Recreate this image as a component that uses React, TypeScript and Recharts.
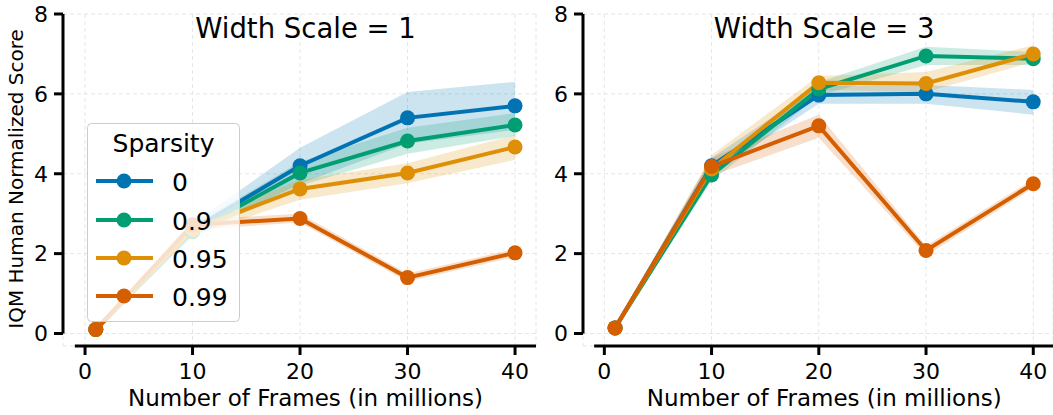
import {
  ComposedChart,
  Line,
  Area,
  XAxis,
  YAxis,
  CartesianGrid,
  ReferenceLine,
} from "recharts";

const FONT = "'DejaVu Sans', sans-serif";

const frames = [1, 10, 20, 30, 40];
const sparsityLabels = ["0", "0.9", "0.95", "0.99"];
const colors = ["#0173b2", "#029e73", "#de8f05", "#d55e00"];
const xTicks = [0, 10, 20, 30, 40];
const yTicks = [0, 2, 4, 6, 8];

// width scale = 1
const ws1Mean = [
  [0.1, 2.6, 4.2, 5.4, 5.7],
  [0.1, 2.55, 4.02, 4.82, 5.22],
  [0.1, 2.6, 3.62, 4.02, 4.67],
  [0.1, 2.72, 2.88, 1.4, 2.02],
];
const ws1Low = [
  [0.07, 2.45, 3.75, 4.75, 5.1],
  [0.07, 2.4, 3.7, 4.5, 4.95],
  [0.07, 2.45, 3.35, 3.76, 4.35],
  [0.06, 2.6, 2.78, 1.3, 1.92],
];
const ws1High = [
  [0.13, 2.75, 4.65, 6.05, 6.3],
  [0.13, 2.7, 4.3, 5.15, 5.52],
  [0.13, 2.75, 3.85, 4.26, 4.97],
  [0.14, 2.85, 3.0, 1.5, 2.12],
];

// width scale = 3
const ws3Mean = [
  [0.14, 4.2, 5.97, 6.0, 5.8],
  [0.14, 3.97, 6.12, 6.95, 6.88],
  [0.14, 4.12, 6.28, 6.26, 7.0],
  [0.14, 4.18, 5.2, 2.08, 3.75],
];
const ws3Low = [
  [0.1, 4.0, 5.75, 5.75, 5.48],
  [0.1, 3.82, 5.95, 6.72, 6.72],
  [0.1, 3.9, 6.1, 6.05, 6.8],
  [0.1, 3.95, 4.9, 1.95, 3.65],
];
const ws3High = [
  [0.18, 4.4, 6.2, 6.22, 6.1],
  [0.18, 4.15, 6.3, 7.18, 7.05],
  [0.18, 4.47, 6.45, 6.55, 7.22],
  [0.18, 4.4, 5.48, 2.2, 3.86],
];

const buildRows = (mean: number[][], low: number[][], high: number[][]) =>
  frames.map((f, i) => {
    const row: any = { frames: f };
    sparsityLabels.forEach((_, s) => {
      row["m" + s] = mean[s][i];
      row["b" + s] = [low[s][i], high[s][i]];
    });
    return row;
  });

const YMIN = -0.313;

type PanelProps = {
  data: any[];
  title: string;
  left: number;
  width: number;
  yAxisWidth: number;
  xMin: number;
  xMax: number;
  centerX: number;
  yLabel?: boolean;
};

function Panel({ data, title, left, width, yAxisWidth, xMin, xMax, centerX, yLabel }: PanelProps) {
  const tickStyle = { fill: "#000", fontSize: 22, fontFamily: FONT };
  return (
    <div style={{ position: "absolute", left, top: 0 }}>
      <ComposedChart
        width={width}
        height={415}
        data={data}
        margin={{ top: 14, right: left === 0 ? 9 : 0, bottom: 0, left: 0 }}
      >
        <CartesianGrid stroke="#e6e6e6" strokeDasharray="4 3" />
        <XAxis
          dataKey="frames"
          type="number"
          domain={[xMin, xMax]}
          ticks={xTicks}
          interval={0}
          allowDataOverflow
          axisLine={false}
          tickLine={{ stroke: "#000", strokeWidth: 3 }}
          tickSize={9}
          tickMargin={8}
          height={69}
          tick={tickStyle}
        />
        <YAxis
          type="number"
          domain={[YMIN, 8]}
          ticks={yTicks}
          interval={0}
          allowDataOverflow
          axisLine={false}
          tickLine={{ stroke: "#000", strokeWidth: 3 }}
          tickSize={9}
          tickMargin={6}
          width={yAxisWidth}
          tick={tickStyle}
        />
        {sparsityLabels.map((_, s) => [
          <Area
            key={"a" + s}
            dataKey={"b" + s}
            type="linear"
            stroke="none"
            fill={colors[s]}
            fillOpacity={0.2}
            isAnimationActive={false}
          />,
          <Line
            key={"l" + s}
            dataKey={"m" + s}
            type="linear"
            stroke={colors[s]}
            strokeWidth={4}
            dot={{ r: 7.5, fill: colors[s], stroke: colors[s], strokeWidth: 0 }}
            activeDot={false}
            isAnimationActive={false}
          />,
        ])}
        <ReferenceLine
          segment={[{ x: xMin, y: 0 }, { x: xMin, y: 8 }]}
          stroke="#000"
          strokeWidth={3}
          ifOverflow="visible"
        />
        <ReferenceLine
          segment={[{ x: -0.95, y: YMIN }, { x: xMax, y: YMIN }]}
          stroke="#000"
          strokeWidth={3}
          ifOverflow="visible"
        />
        <text x={centerX} y={38} textAnchor="middle" fontSize={27.5} fontFamily={FONT} fill="#000">
          {title}
        </text>
        <text x={centerX} y={406} textAnchor="middle" fontSize={23} fontFamily={FONT} fill="#000">
          Number of Frames (in millions)
        </text>
        {yLabel && (
          <text
            x={22.7}
            y={179}
            transform="rotate(-90, 22.7, 179)"
            textAnchor="middle"
            fontSize={20}
            fontFamily={FONT}
            fill="#000"
          >
            IQM Human Normalized Score
          </text>
        )}
      </ComposedChart>
    </div>
  );
}

function SparsityLegend() {
  const rows = [58, 97, 135, 173];
  return (
    <svg
      width={154}
      height={200}
      style={{ position: "absolute", left: 87, top: 123, fontFamily: FONT }}
    >
      <rect x={0.5} y={0.5} width={152} height={198} rx={4} fill="rgba(255,255,255,0.8)" stroke="#cccccc" />
      <text x={76.5} y={29} textAnchor="middle" fontSize={25} fill="#000">
        Sparsity
      </text>
      {sparsityLabels.map((lab, i) => (
        <g key={lab}>
          <line x1={9} x2={66} y1={rows[i]} y2={rows[i]} stroke={colors[i]} strokeWidth={4} />
          <circle cx={37} cy={rows[i]} r={7.5} fill={colors[i]} />
          <text x={85} y={rows[i] + 9.5} fontSize={25} fill="#000">
            {lab}
          </text>
        </g>
      ))}
    </svg>
  );
}

export default function App() {
  const ws1 = buildRows(ws1Mean, ws1Low, ws1High);
  const ws3 = buildRows(ws3Mean, ws3Low, ws3High);
  return (
    <div
      style={{
        position: "absolute",
        left: 0,
        top: 0,
        width: 1053,
        height: 415,
        overflow: "hidden",
        background: "#fff",
        fontFamily: FONT,
      }}
    >
      <Panel
        data={ws1}
        title="Width Scale = 1"
        left={0}
        width={545}
        yAxisWidth={63}
        xMin={-2.05}
        xMax={41.95}
        centerX={305.5}
        yLabel
      />
      <Panel
        data={ws3}
        title="Width Scale = 3"
        left={545}
        width={508}
        yAxisWidth={38}
        xMin={-1.99}
        xMax={41.84}
        centerX={279.2}
      />
      <SparsityLegend />
    </div>
  );
}
